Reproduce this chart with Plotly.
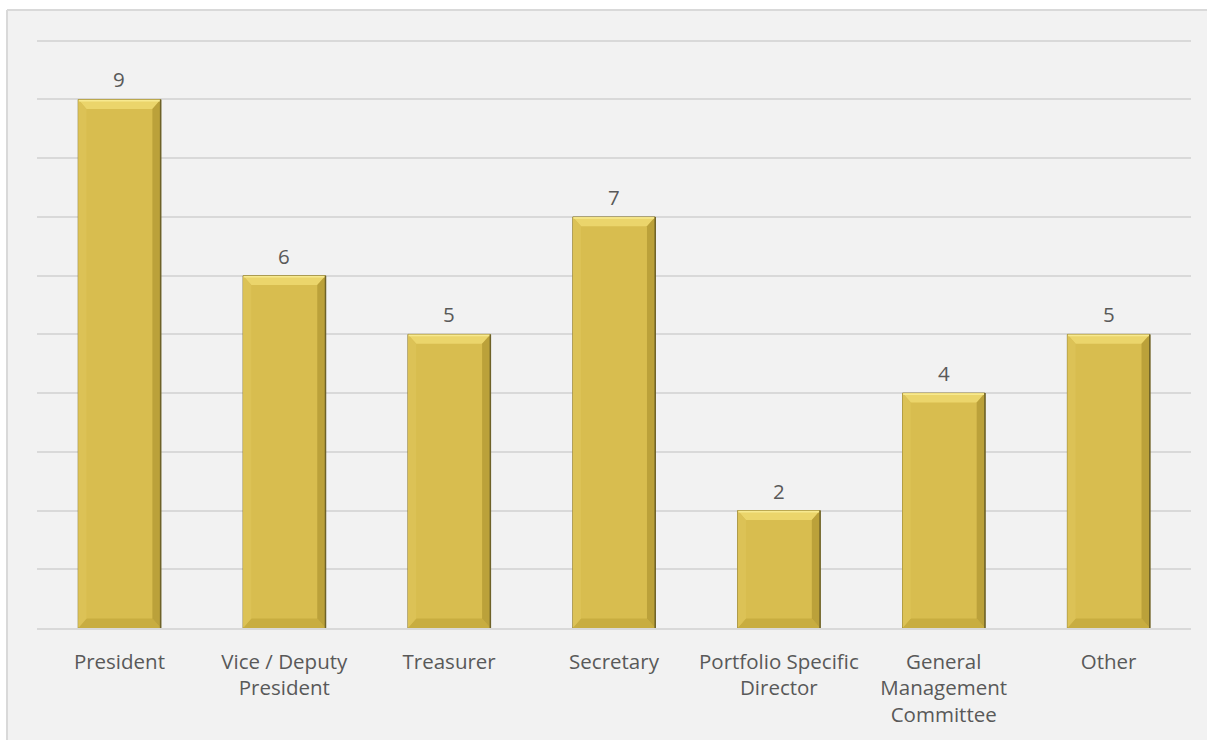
import plotly.graph_objects as go

roles = ["President", "Vice / Deputy<br>President", "Treasurer", "Secretary",
         "Portfolio Specific<br>Director", "General<br>Management<br>Committee", "Other"]
counts = [9, 6, 5, 7, 2, 4, 5]

BAR_W = 0.5
FILL = "#D8BD4F"
TXT = "#595959"
FONT = "Open Sans"
FSIZE = 20.5
YMAX = 10.03

fig = go.Figure()

fig.add_trace(go.Bar(
    x=list(range(len(roles))), y=counts, width=BAR_W,
    marker=dict(color=FILL, line=dict(color="#8A7A34", width=1)),
    hoverinfo="skip",
))

# bevel facets computed from each bar's value
bx = 0.05    # facet width in category units
by = 0.16    # facet height in value units
shapes = []
for i, v in enumerate(counts):
    x0, x1 = i - BAR_W / 2, i + BAR_W / 2
    facets = [
        (f"M {x0},{v} L {x1},{v} L {x1-bx},{v-by} L {x0+bx},{v-by} Z", "#EBD56B"),
        (f"M {x0},0 L {x1},0 L {x1-bx},{by} L {x0+bx},{by} Z", "#C8AD40"),
        (f"M {x0},0 L {x0},{v} L {x0+bx},{v-by} L {x0+bx},{by} Z", "#DCC256"),
        (f"M {x1},0 L {x1},{v} L {x1-bx},{v-by} L {x1-bx},{by} Z", "#BBA13A"),
    ]
    for path, col in facets:
        shapes.append(dict(type="path", path=path, xref="x", yref="y",
                           fillcolor=col, line=dict(width=0), layer="above"))
    shapes.append(dict(type="line", x0=x0 + 0.004, x1=x1 - 0.004, y0=v - 0.02, y1=v - 0.02,
                       xref="x", yref="y", line=dict(color="#F7E98F", width=1.5), layer="above"))
    shapes.append(dict(type="line", x0=x1, x1=x1, y0=0, y1=v, xref="x", yref="y",
                       line=dict(color="#6E6228", width=1.5), layer="above"))

# chart frame: white page margin on the top and left, light border on the panel edge
PX = 1 / 1154
PY = 1 / (589 * 10 / YMAX)
fx0, fy1 = -30 * PX, 1 + 29 * PY
fig.add_shape(type="rect", xref="paper", yref="paper",
              x0=-0.2, x1=fx0, y0=-0.5, y1=1.2,
              fillcolor="white", line=dict(width=0), layer="below")
fig.add_shape(type="rect", xref="paper", yref="paper",
              x0=-0.2, x1=1.2, y0=fy1, y1=1.2,
              fillcolor="white", line=dict(width=0), layer="below")
fig.add_shape(type="line", xref="paper", yref="paper", x0=fx0, x1=1.2, y0=fy1, y1=fy1,
              line=dict(color="#D9D9D9", width=2), layer="below")
fig.add_shape(type="line", xref="paper", yref="paper", x0=fx0, x1=fx0, y0=-0.5, y1=fy1,
              line=dict(color="#D9D9D9", width=2), layer="below")
for s in shapes:
    fig.add_shape(**s)

for i, v in enumerate(counts):
    fig.add_annotation(x=i, y=v, text=str(v), showarrow=False, yshift=20,
                       font=dict(family=FONT, size=FSIZE, color=TXT))

fig.update_layout(
    width=1207, height=740,
    margin=dict(l=37, r=16, t=39, b=112),
    paper_bgcolor="#F2F2F2", plot_bgcolor="rgba(0,0,0,0)",
    showlegend=False,
    font=dict(family=FONT, size=FSIZE, color=TXT),
)
fig.update_xaxes(
    tickmode="array", tickvals=list(range(len(roles))), ticktext=roles,
    range=[-0.5, len(roles) - 0.5], showgrid=False,
    showline=True, linecolor="#D9D9D9", linewidth=2,
    ticks="outside", ticklen=14, tickcolor="rgba(0,0,0,0)",
    tickfont=dict(family=FONT, size=FSIZE, color=TXT),
)
fig.update_yaxes(
    range=[0, YMAX], tickvals=list(range(0, 11)), showgrid=True,
    gridcolor="#D9D9D9", gridwidth=1.5,
    showticklabels=False, zeroline=False, showline=False,
)

fig.write_html("out.html")
